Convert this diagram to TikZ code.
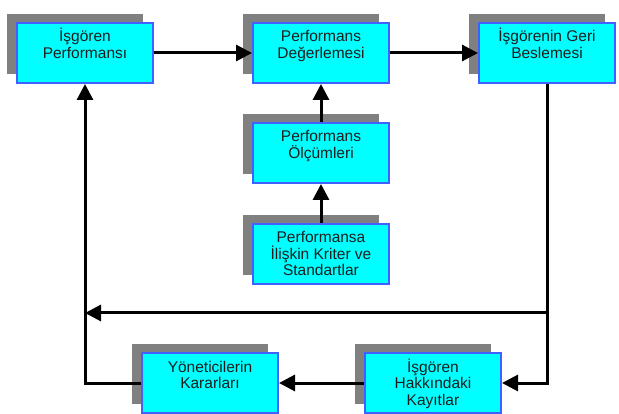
\documentclass[tikz,border=0pt]{standalone}
\usepackage{fontspec}
\setmainfont{Liberation Sans}
\usetikzlibrary{shadows,arrows.meta}
\definecolor{boxblue}{RGB}{64,96,255}
\definecolor{boxcyan}{RGB}{0,255,255}
\definecolor{sgray}{RGB}{128,128,128}
\definecolor{txt}{RGB}{30,30,30}
\newcommand{\bt}[1]{\parbox[c][60pt][t]{136pt}{\vspace*{5pt}\centering\rule{0pt}{14pt}#1\par}}
\begin{document}
\begin{tikzpicture}[x=1pt,y=-1pt,
  box/.style={draw=boxblue,line width=2pt,fill=boxcyan,minimum width=136pt,minimum height=60pt,
    inner sep=0pt,text=txt,font=\fontsize{15.5pt}{16.5pt}\selectfont,
    general shadow={fill=sgray,shadow xshift=-10pt,shadow yshift=9pt}},
  arr/.style={line width=3pt,-{Triangle[length=16pt,width=16pt]}},
  ln/.style={line width=3pt}]
\useasboundingbox (0,0) rectangle (619,414);
\node[box] (b1) at (85,53) {\bt{İşgören\\Performansı}};
\node[box] (b2) at (321,53) {\bt{Performans\\Değerlemesi}};
\node[box] (b3) at (547,53) {\bt{İşgörenin Geri\\Beslemesi}};
\node[box] (b4) at (321,153) {\bt{Performans\\Ölçümleri}};
\node[box] (b5) at (321,254) {\bt{Performansa\\İlişkin Kriter ve\\Standartlar}};
\node[box] (b6) at (210,383) {\bt{Yöneticilerin\\Kararları}};
\node[box] (b7) at (433,383) {\bt{İşgören\\Hakkındaki\\Kayıtlar}};
\coordinate (jr) at (547,313);
\coordinate (jl) at (85,313);
\draw[arr] (b1.east) -- (b2.west);
\draw[arr] (b2.east) -- (b3.west);
\draw[arr] (b4.north) -- (b2.south);
\draw[arr] (b5.north) -- (b4.south);
\draw[arr] (b3.south) |- (b7.east);
\draw[arr] (jr) -- (jl);
\draw[arr] (b7.west) -- (b6.east);
\draw[arr] (b6.west) -| (b1.south);
\end{tikzpicture}
\end{document}
